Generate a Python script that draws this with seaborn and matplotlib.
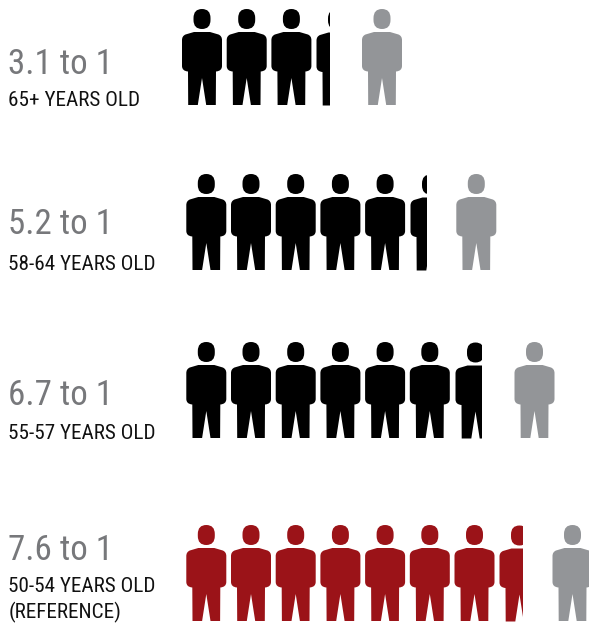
import matplotlib
matplotlib.use("Agg")
import matplotlib.pyplot as plt
from matplotlib.path import Path
from matplotlib.patches import Rectangle
from matplotlib import font_manager as fm
import numpy as np
import pandas as pd
import seaborn as sns

# --- data
ratio_labels = ["3.1 to 1", "5.2 to 1", "6.7 to 1", "7.6 to 1"]
ratios = [3.1, 5.2, 6.7, 7.6]
age_labels = ["65+ YEARS OLD", "58-64 YEARS OLD", "55-57 YEARS OLD", "50-54 YEARS OLD\n(REFERENCE)"]
partial_share = [0.33, 0.40, 0.65, 0.56]

# --- layout and style
W, H = 589, 623
first_x = [202, 206.3, 206.3, 206.3]
pitch = 44.7
grey_x = [382, 476.3, 534.5, 572.5]
row_y = [57, 222, 390, 573]
ratio_base = [74, 234, 405, 560]
age_base = [106, 270, 439, 592]
BLACK, GREY, RED = "#000000", "#939598", "#9b1318"
TXT_GREY = "#77787b"

def person_marker():
    C3 = Path.CURVE3
    L = Path.LINETO
    pts = [
        (0, 25, Path.MOVETO), (8, 25, L), (16.5, 22.5, L),
        (20, 21, C3), (20, 17, C3), (20, -9, L), (20, -14, C3), (14, -14.5, C3),
        (13.8, -48, L), (4.2, -48, L), (0, -21, L),
        (-4.2, -48, L), (-13.8, -48, L), (-14, -14.5, L),
        (-20, -14, C3), (-20, -9, C3), (-20, 17, L), (-20, 21, C3), (-16.5, 22.5, C3),
        (-8, 25, L), (0, 25, Path.CLOSEPOLY),
        (0, 48, Path.MOVETO), (8.5, 48, C3), (8.5, 39, C3), (8.5, 37, L),
        (8.5, 28, C3), (0, 28, C3), (-8.5, 28, C3), (-8.5, 37, C3),
        (-8.5, 39, L), (-8.5, 48, C3), (0, 48, C3), (0, 48, Path.CLOSEPOLY),
    ]
    return Path(np.array([(x, y) for x, y, _ in pts], float), [c for _, _, c in pts])

sns.set_theme(style="white")
names = {f.name for f in fm.fontManager.ttflist}
family = next((n for n in ["Roboto Condensed", "Archivo Narrow", "Liberation Sans Narrow", "Roboto"] if n in names), "DejaVu Sans")
plt.rcParams["font.family"] = [family, "DejaVu Sans"]

fig = plt.figure(figsize=(W / 100, H / 100), dpi=100)
ax = fig.add_axes([0, 0, 1, 1])
marker = person_marker()
size = (96 * 72 / 100) ** 2

whole, partial = [], []
for r, ratio in enumerate(ratios):
    n = int(np.floor(ratio))
    main = RED if r == len(ratios) - 1 else BLACK
    for i in range(n):
        whole.append(dict(x=first_x[r] + i * pitch, y=row_y[r], c=main))
    whole.append(dict(x=grey_x[r], y=row_y[r], c=GREY))
    partial.append(dict(x=first_x[r] + n * pitch, y=row_y[r], c=main, share=partial_share[r]))

whole_df = pd.DataFrame(whole)
sns.scatterplot(data=whole_df, x="x", y="y", hue="c", palette={c: c for c in whole_df.c.unique()},
                marker=marker, s=size, linewidth=0, legend=False, ax=ax)

for p in partial:
    sns.scatterplot(x=[p["x"]], y=[p["y"]], color=p["c"], marker=marker, s=size,
                    linewidth=0, legend=False, ax=ax)
    clip = Rectangle((p["x"] - 20, p["y"] - 50), 40 * p["share"], 100, transform=ax.transData)
    ax.collections[-1].set_clip_path(clip)

ax.set_xlim(0, W)
ax.set_ylim(H, 0)
ax.set_axis_off()

for r in range(len(ratios)):
    ax.text(8.5, ratio_base[r], ratio_labels[r], color=TXT_GREY, fontsize=25.2, va="baseline", ha="left")
    lines = age_labels[r].split("\n")
    for j, line in enumerate(lines):
        ax.text(8.5, age_base[r] + 26 * j, line, color="#111111", fontsize=15.2, va="baseline", ha="left")

fig.savefig("out.png", dpi=100)
